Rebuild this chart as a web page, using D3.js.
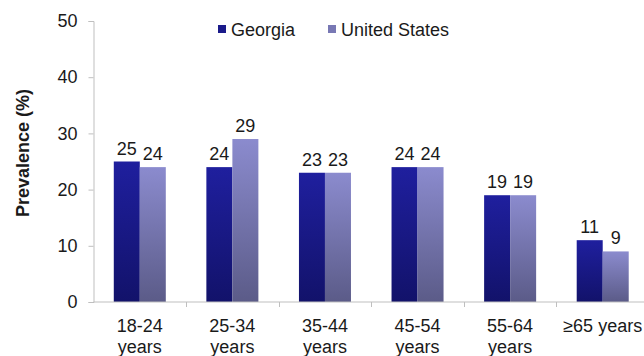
<!DOCTYPE html>
<html>
<head>
<meta charset="utf-8">
<script src="https://cdn.jsdelivr.net/npm/d3@7"></script>
<style>
  html, body { margin: 0; padding: 0; background: #fff; }
  svg { display: block; font-family: "Liberation Sans", Arial, sans-serif; }
</style>
</head>
<body>
<svg id="chart" width="644" height="356"></svg>
<script>
// Prevalence by age group, Georgia vs United States
const categories = ["18-24 years", "25-34 years", "35-44 years", "45-54 years", "55-64 years", "\u226565 years"];
const seriesNames = ["Georgia", "United States"];
const georgia = [25, 24, 23, 24, 19, 11];
const unitedStates = [24, 29, 23, 24, 19, 9];
const yTicks = [0, 10, 20, 30, 40, 50];

const svg = d3.select("#chart");
const W = 644, H = 356;
const plot = { left: 93.5, right: 649, top: 21, bottom: 302 };

const x = d3.scaleBand().domain(categories).range([plot.left, plot.right]).paddingInner(0).paddingOuter(0);
const y = d3.scaleLinear().domain([0, 50]).range([plot.bottom, plot.top]);
const xs = d3.scaleBand().domain(seriesNames).range([0, x.bandwidth()]).paddingInner(0).paddingOuter(0.78);

// Vertical gradients for the two series
const defs = svg.append("defs");
const grads = [
  { id: "g0", top: "#1f1f9e", bottom: "#12126a" },
  { id: "g1", top: "#8b8bce", bottom: "#5b5b88" }
];
grads.forEach(g => {
  const lg = defs.append("linearGradient").attr("id", g.id).attr("x1", 0).attr("y1", 0).attr("x2", 0).attr("y2", 1);
  lg.append("stop").attr("offset", "0%").attr("stop-color", g.top);
  lg.append("stop").attr("offset", "100%").attr("stop-color", g.bottom);
});
const legendColors = ["#1a1a8a", "#7878b4"];

const rows = categories.map((c, i) => ({ cat: c, vals: [georgia[i], unitedStates[i]] }));

// Bars
const groups = svg.append("g").selectAll("g").data(rows).join("g")
  .attr("transform", d => `translate(${x(d.cat)},0)`);
groups.selectAll("rect").data(d => d.vals.map((v, k) => ({ v, k })))
  .join("rect")
  .attr("x", d => xs(seriesNames[d.k]))
  .attr("width", xs.bandwidth())
  .attr("y", d => y(d.v))
  .attr("height", d => y(0) - y(d.v))
  .attr("fill", d => `url(#g${d.k})`);

// Value labels
groups.selectAll("text").data(d => d.vals.map((v, k) => ({ v, k })))
  .join("text")
  .attr("x", d => xs(seriesNames[d.k]) + xs.bandwidth() / 2)
  .attr("y", d => y(d.v) - 7)
  .attr("text-anchor", "middle")
  .attr("font-size", 18)
  .attr("fill", "#1a1a1a")
  .text(d => d.v);

// Y axis
const yAxis = svg.append("g").attr("transform", `translate(${plot.left},0)`)
  .call(d3.axisLeft(y).tickValues(yTicks).tickSize(5).tickPadding(11));
yAxis.select(".domain").attr("stroke", "#bfbfbf");
yAxis.selectAll(".tick line").attr("stroke", "#bfbfbf");
yAxis.selectAll(".tick text").attr("font-size", 18).attr("fill", "#1a1a1a").attr("font-family", "Liberation Sans, Arial, sans-serif");

// X axis
const xAxisG = svg.append("g").attr("transform", `translate(0,${y(0)})`);
xAxisG.append("line").attr("x1", plot.left).attr("x2", W).attr("stroke", "#bfbfbf");
xAxisG.selectAll(".sep").data(categories).join("line")
  .attr("class", "sep")
  .attr("x1", d => Math.round(x(d) + x.bandwidth()) + 0.5).attr("x2", d => Math.round(x(d) + x.bandwidth()) + 0.5)
  .attr("y1", 0).attr("y2", 5).attr("stroke", "#bfbfbf");
const xl = xAxisG.selectAll(".lab").data(categories).join("text")
  .attr("class", "lab")
  .attr("text-anchor", "middle")
  .attr("font-size", 18)
  .attr("fill", "#1a1a1a");
xl.each(function(d) {
  const t = d3.select(this);
  const cx = x(d) + x.bandwidth() / 2;
  const parts = d.startsWith("\u2265") ? [d] : d.split(" ");
  parts.forEach((p, i) => {
    t.append("tspan").attr("x", cx).attr("y", 30 + i * 21).text(p);
  });
});

// Y axis title
svg.append("text")
  .attr("transform", `translate(29,153) rotate(-90)`)
  .attr("text-anchor", "middle")
  .attr("font-size", 18)
  .attr("font-weight", "bold")
  .attr("fill", "#1a1a1a")
  .text("Prevalence (%)");

// Legend
const legendX = [218, 328];
const lg = svg.append("g");
seriesNames.forEach((n, i) => {
  lg.append("rect").attr("x", legendX[i]).attr("y", 25).attr("width", 8).attr("height", 8).attr("fill", legendColors[i]);
  lg.append("text").attr("x", legendX[i] + 13).attr("y", 36).attr("font-size", 18).attr("fill", "#1a1a1a").text(n);
});
</script>
</body>
</html>
